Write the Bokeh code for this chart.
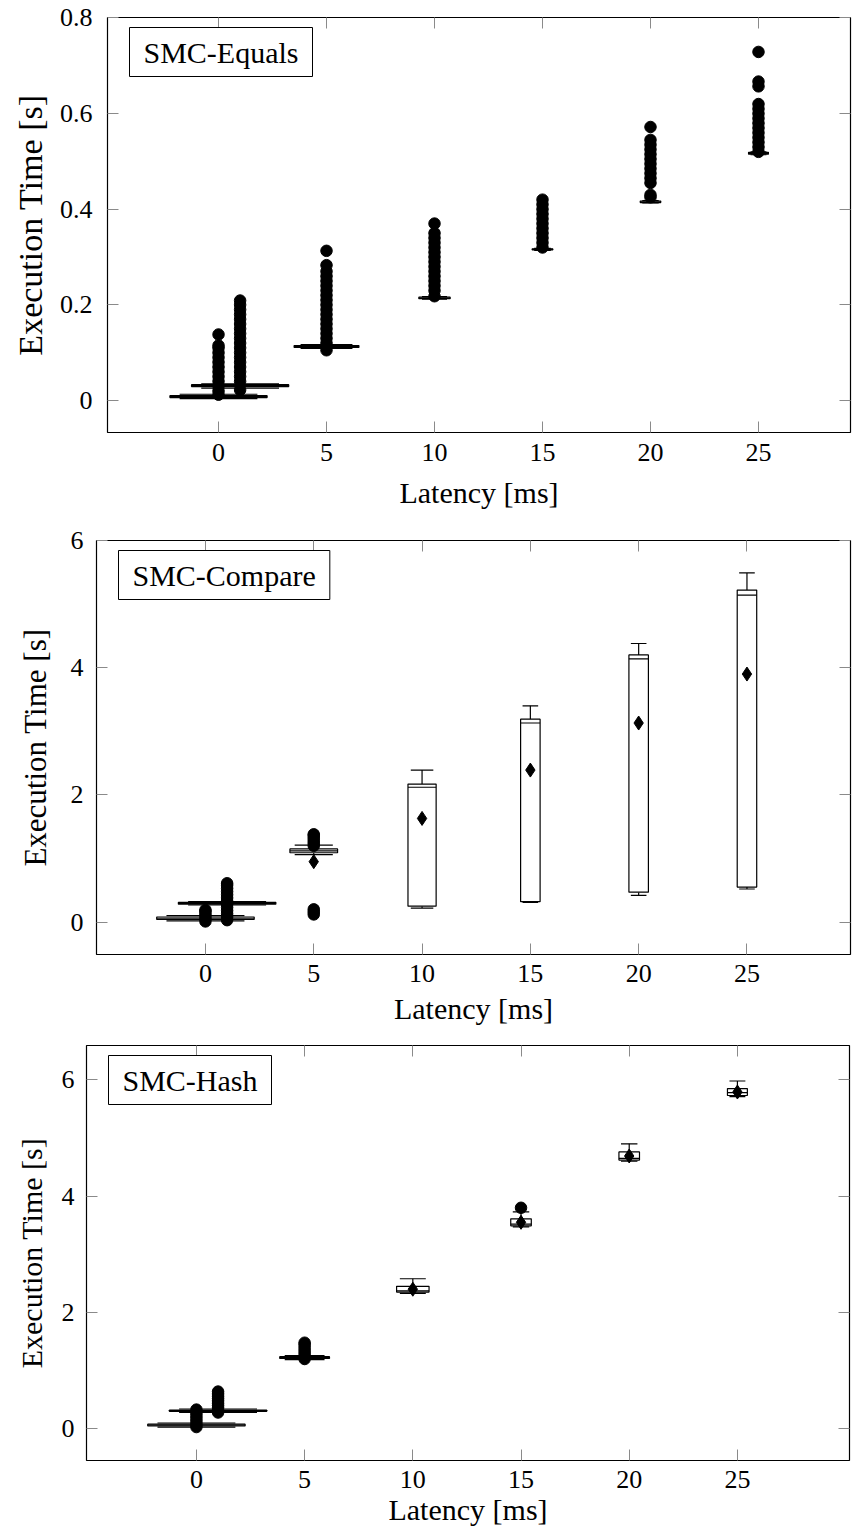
from bokeh.plotting import figure
from bokeh.models import (ColumnDataSource, FixedTicker, LinearAxis, Label, Range1d,
                          CustomLabelingPolicy, Title)
from bokeh.embed import file_html
from bokeh.resources import INLINE

FONT = "Liberation Serif, DejaVu Serif, serif"

latency = [0, 1, 5, 10, 15, 20, 25]
x_ticks = [0, 5, 10, 15, 20, 25]
x_title = "Latency [ms]"
y_title = "Execution Time [s]"

# ---------------- SMC-Equals ----------------
eq_low = [0.004, 0.026, 0.109, 0.212, 0.314, 0.413, 0.514]
eq_q1 = [0.006, 0.029, 0.111, 0.213, 0.315, 0.414, 0.515]
eq_med = [0.008, 0.031, 0.113, 0.214, 0.316, 0.415, 0.517]
eq_q3 = [0.010, 0.033, 0.115, 0.216, 0.317, 0.417, 0.519]
eq_high = [0.013, 0.035, 0.117, 0.217, 0.318, 0.418, 0.520]
eq_outliers = [
    [0.012, 0.02, 0.03, 0.04, 0.05, 0.06, 0.07, 0.08, 0.09, 0.10, 0.11, 0.115, 0.138],
    [0.022, 0.04, 0.05, 0.06, 0.07, 0.08, 0.09, 0.10, 0.11, 0.12, 0.13, 0.14, 0.15,
     0.16, 0.17, 0.18, 0.19, 0.20, 0.209],
    [0.105, 0.12, 0.13, 0.14, 0.15, 0.16, 0.17, 0.18, 0.19, 0.20, 0.21, 0.22, 0.23,
     0.24, 0.25, 0.26, 0.27, 0.283, 0.313],
    [0.218, 0.23, 0.24, 0.25, 0.26, 0.27, 0.28, 0.29, 0.30, 0.31, 0.32, 0.33, 0.34,
     0.35, 0.37],
    [0.32, 0.33, 0.34, 0.35, 0.36, 0.37, 0.38, 0.39, 0.40, 0.41, 0.42],
    [0.425, 0.43, 0.455, 0.465, 0.475, 0.485, 0.495, 0.505, 0.515, 0.525, 0.535,
     0.545, 0.572],
    [0.52, 0.53, 0.54, 0.55, 0.56, 0.57, 0.58, 0.59, 0.60, 0.61, 0.62, 0.657, 0.667,
     0.729],
]
eq_yticks = [0, 0.2, 0.4, 0.6, 0.8]
eq_ytick_labels = ["0", "0.2", "0.4", "0.6", "0.8"]

# ---------------- SMC-Compare ----------------
cmp_low = [0.02, 0.27, 1.06, 0.22, 0.31, 0.42, 0.52]
cmp_q1 = [0.04, 0.28, 1.09, 0.25, 0.32, 0.47, 0.55]
cmp_med = [0.06, 0.295, 1.12, 2.12, 3.13, 4.14, 5.14]
cmp_q3 = [0.08, 0.31, 1.15, 2.17, 3.19, 4.20, 5.22]
cmp_high = [0.10, 0.32, 1.21, 2.39, 3.40, 4.38, 5.49]
cmp_mean = [0.06, 0.30, 0.95, 1.63, 2.39, 3.13, 3.90]
cmp_outliers = [
    [0.01, 0.05, 0.09, 0.13, 0.17, 0.19],
    [0.03, 0.08, 0.13, 0.18, 0.23, 0.28, 0.33, 0.38, 0.43, 0.48, 0.53, 0.58, 0.61],
    [0.12, 0.16, 0.20, 1.20, 1.24, 1.28, 1.32, 1.36, 1.38],
    [], [], [], [],
]
cmp_yticks = [0, 2, 4, 6]
cmp_ytick_labels = ["0", "2", "4", "6"]

# ---------------- SMC-Hash ----------------
hash_low = [0.03, 0.28, 1.19, 2.33, 3.47, 4.60, 5.71]
hash_q1 = [0.05, 0.30, 1.21, 2.35, 3.49, 4.62, 5.73]
hash_med = [0.065, 0.31, 1.225, 2.37, 3.52, 4.65, 5.78]
hash_q3 = [0.08, 0.32, 1.24, 2.45, 3.61, 4.76, 5.85]
hash_high = [0.10, 0.34, 1.26, 2.58, 3.73, 4.90, 5.98]
hash_mean = [0.07, 0.32, 1.23, 2.40, 3.55, 4.69, 5.79]
hash_outliers = [
    [0.03, 0.08, 0.13, 0.18, 0.23, 0.28, 0.33],
    [0.28, 0.32, 0.36, 0.40, 0.44, 0.48, 0.52, 0.56, 0.60, 0.64],
    [1.20, 1.25, 1.30, 1.35, 1.40, 1.45, 1.48],
    [], [3.80], [], [],
]
hash_yticks = [0, 2, 4, 6]
hash_ytick_labels = ["0", "2", "4", "6"]

# box widths (style, in x units)
eq_widths = [4.5, 4.5, 3.0, 1.45, 0.96, 0.95, 0.92]
cmp_widths = [4.5, 4.5, 2.2, 1.3, 0.9, 0.9, 0.9]
hash_widths = [4.5, 4.5, 2.3, 1.5, 0.95, 0.95, 0.92]

TICK_COLOR = "#8a8a8a"
NO_LABELS = "const n = indices.size; for (let i = 0; i < n; i++) { indices.unset(i) } return indices"


def bare_axis(ticker):
    return LinearAxis(ticker=ticker, major_label_policy=CustomLabelingPolicy(code=NO_LABELS),
                      major_label_standoff=0, major_label_text_font_size="1px",
                      axis_line_color=None, major_tick_in=11, major_tick_out=0,
                      minor_tick_line_color=None, major_tick_line_color=TICK_COLOR)


def label_axis(ticker, standoff, overrides=None):
    ax = LinearAxis(ticker=ticker, axis_line_color=None, major_tick_in=11, major_tick_out=0,
                    minor_tick_line_color=None, major_tick_line_color=TICK_COLOR,
                    major_label_text_font=FONT, major_label_text_font_size="26px",
                    major_label_text_color="black", major_label_standoff=standoff)
    if overrides:
        ax.major_label_overrides = overrides
    return ax


def make_panel(title, lo, q1, med, q3, hi, mean, outl, widths, xr, yr, yticks, ylabels,
               fw, fh, bl, bt, bb, ylab_size, y_std, ylab_std, ylab_off, x_std, xlab_std):
    p = figure(frame_width=fw, frame_height=fh, x_range=Range1d(*xr), y_range=Range1d(*yr),
               output_backend="svg", toolbar_location=None,
               x_axis_location=None, y_axis_location=None,
               min_border_left=bl, min_border_right=8, min_border_top=bt, min_border_bottom=bb,
               background_fill_color="white", border_fill_color="white")
    p.grid.visible = False
    p.outline_line_color = "black"
    p.outline_line_width = 1.2

    xt = FixedTicker(ticks=x_ticks)
    yt = FixedTicker(ticks=yticks)
    p.add_layout(label_axis(xt, x_std), "below")
    p.add_layout(label_axis(yt, y_std, {t: s for t, s in zip(yticks, ylabels)}), "left")
    p.add_layout(bare_axis(xt), "above")
    p.add_layout(bare_axis(yt), "right")
    p.add_layout(Title(text=x_title, align="center", text_font=FONT, text_font_size="30px",
                       text_font_style="normal", text_color="black", standoff=xlab_std), "below")
    p.add_layout(Title(text=y_title, align="center", text_font=FONT, text_font_size=ylab_size,
                       text_font_style="normal", text_color="black", standoff=ylab_std,
                       offset=ylab_off), "left")

    src = ColumnDataSource(dict(
        x=latency, lo=lo, q1=q1, med=med, q3=q3, hi=hi, w=widths,
        left=[x - w / 2 for x, w in zip(latency, widths)],
        right=[x + w / 2 for x, w in zip(latency, widths)],
        cl=[x - 0.4 * w for x, w in zip(latency, widths)],
        cr=[x + 0.4 * w for x, w in zip(latency, widths)],
    ))
    p.segment(x0="x", x1="x", y0="q3", y1="hi", source=src, line_color="black", line_width=1.2)
    p.segment(x0="x", x1="x", y0="lo", y1="q1", source=src, line_color="black", line_width=1.2)
    p.segment(x0="cl", x1="cr", y0="hi", y1="hi", source=src, line_color="black", line_width=1.2)
    p.segment(x0="cl", x1="cr", y0="lo", y1="lo", source=src, line_color="black", line_width=1.2)
    p.quad(left="left", right="right", bottom="q1", top="q3", source=src,
           fill_color="white", line_color="black", line_width=1.2)
    p.segment(x0="left", x1="right", y0="med", y1="med", source=src, line_color="black", line_width=1.2)

    ox = [latency[i] for i, lst in enumerate(outl) for _ in lst]
    oy = [v for lst in outl for v in lst]
    p.scatter(ox, oy, marker="circle", size=11.5, fill_color="black", line_color="black")
    if mean is not None:
        p.scatter(latency, mean, marker="diamond", size=14, fill_color="black", line_color="black")

    p.add_layout(Label(x=22, y=fh - 10, x_units="screen", y_units="screen", text=title,
                       text_font=FONT, text_font_size="30px", text_color="black",
                       text_align="left", text_baseline="top",
                       border_line_color="black", border_line_width=1,
                       background_fill_color="white", padding=(14, 8)))
    return p


p1 = make_panel("SMC-Equals", eq_low, eq_q1, eq_med, eq_q3, eq_high, None, eq_outliers, eq_widths,
                (-5.14, 29.26), (-0.067, 0.801), eq_yticks, eq_ytick_labels,
                743, 415, 107, 17, 92, "34px", 15, 16, 6, 11, 20)
p2 = make_panel("SMC-Compare", cmp_low, cmp_q1, cmp_med, cmp_q3, cmp_high, cmp_mean, cmp_outliers, cmp_widths,
                (-5.03, 29.78), (-0.51, 6.0), cmp_yticks, cmp_ytick_labels,
                754, 414, 96, 16, 86, "31px", 13, 29, -1, 10, 11)
p3 = make_panel("SMC-Hash", hash_low, hash_q1, hash_med, hash_q3, hash_high, hash_mean, hash_outliers, hash_widths,
                (-5.08, 30.18), (-0.545, 6.59), hash_yticks, hash_ytick_labels,
                763, 415, 86, 5, 75, "30px", 12, 21, -6, 10, 0)

open("out.html", "w").write(file_html([p1, p2, p3], INLINE))
